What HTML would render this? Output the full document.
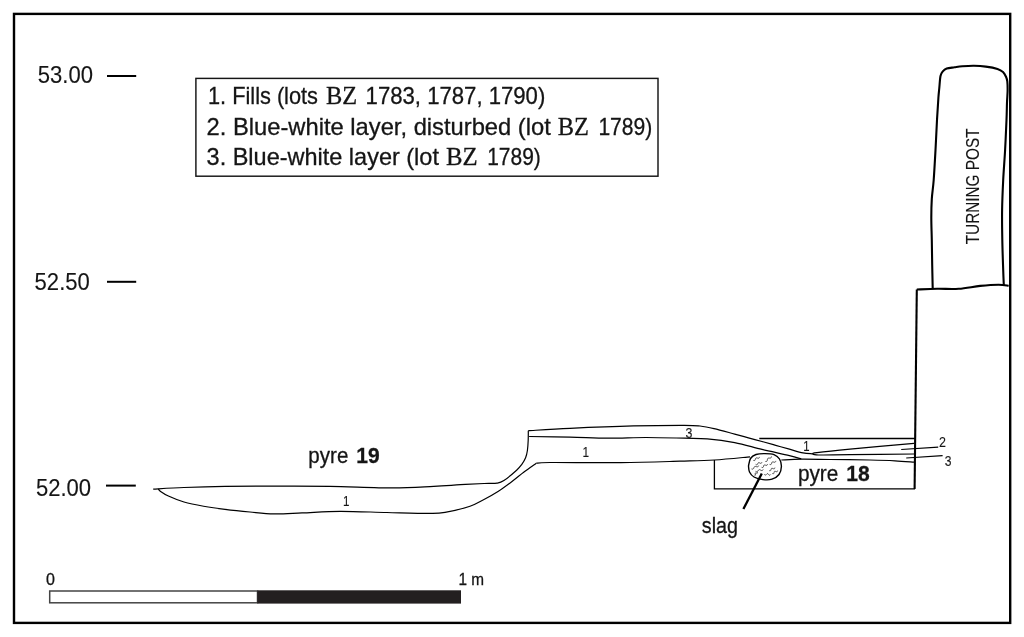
<!DOCTYPE html>
<html><head><meta charset="utf-8">
<style>
html,body{margin:0;padding:0;background:#fff;}
body{width:1024px;height:637px;overflow:hidden;}
svg{display:block;will-change:transform;}
text{fill:#151515;stroke:#151515;stroke-width:0.3px;}
.sa{font-family:"Liberation Sans",sans-serif;}
.sb{font-family:"Liberation Sans",sans-serif;font-weight:bold;}
.se{font-family:"Liberation Serif",serif;}
</style></head><body>
<svg width="1024" height="637" viewBox="0 0 1024 637">
<rect x="0" y="0" width="1024" height="637" fill="#fff"/>
<rect x="14" y="13.9" width="996.2" height="609" fill="none" stroke="#000" stroke-width="2.4"/>
<text class="sa" font-size="23.66" x="37.8" y="82.7" textLength="55.2" lengthAdjust="spacingAndGlyphs" style="stroke-width:0.12px">53.00</text>
<text class="sa" font-size="23.66" x="34.6" y="289.8" textLength="55.2" lengthAdjust="spacingAndGlyphs" style="stroke-width:0.12px">52.50</text>
<text class="sa" font-size="23.8" x="35.9" y="495.8" textLength="55.2" lengthAdjust="spacingAndGlyphs" style="stroke-width:0.12px">52.00</text>
<g stroke="#000" stroke-width="2">
<line x1="107" y1="76" x2="136.2" y2="76"/>
<line x1="107" y1="281.8" x2="136.2" y2="281.8"/>
<line x1="106" y1="485.6" x2="135.8" y2="485.6"/>
</g>
<rect x="195.9" y="78.4" width="462.1" height="97.8" fill="none" stroke="#151515" stroke-width="1.45"/>
<text class="sa" font-size="24" x="208.0" y="103.8" textLength="109.98" lengthAdjust="spacingAndGlyphs">1. Fills (lots</text>
<text class="se" font-size="25.3" x="325.9" y="103.8" textLength="31.21" lengthAdjust="spacingAndGlyphs">BZ</text>
<text class="sa" font-size="24" x="365.6" y="103.8" textLength="179.72" lengthAdjust="spacingAndGlyphs">1783, 1787, 1790)</text>
<text class="sa" font-size="24" x="206.6" y="134.6" textLength="344.21" lengthAdjust="spacingAndGlyphs">2. Blue-white layer, disturbed (lot</text>
<text class="se" font-size="25.3" x="557.8" y="134.6" textLength="31.21" lengthAdjust="spacingAndGlyphs">BZ</text>
<text class="sa" font-size="24" x="598.4" y="134.6" textLength="53.9" lengthAdjust="spacingAndGlyphs">1789)</text>
<text class="sa" font-size="24" x="206.6" y="164.7" textLength="232.32" lengthAdjust="spacingAndGlyphs">3. Blue-white layer (lot</text>
<text class="se" font-size="25.3" x="445.9" y="164.7" textLength="31.71" lengthAdjust="spacingAndGlyphs">BZ</text>
<text class="sa" font-size="24" x="487.2" y="164.7" textLength="53.6" lengthAdjust="spacingAndGlyphs">1789)</text>
<g fill="none" stroke="#000" stroke-width="2.1" stroke-linecap="butt" stroke-linejoin="round">
<path d="M932.70,288.20 C932.62,284.33 932.35,273.03 932.20,265.00 C932.05,256.97 931.95,247.88 931.80,240.00 C931.65,232.12 931.30,224.55 931.30,217.70 C931.30,210.85 931.40,205.18 931.80,198.90 C932.20,192.62 933.07,188.43 933.70,180.00 C934.33,171.57 935.05,158.30 935.60,148.30 C936.15,138.30 936.53,128.43 937.00,120.00 C937.47,111.57 938.02,103.03 938.40,97.70 C938.78,92.37 938.95,91.62 939.30,88.00 C939.65,84.38 939.92,78.78 940.50,76.00 C941.08,73.22 941.77,72.55 942.80,71.30 C943.83,70.05 944.75,69.17 946.70,68.50 C948.65,67.83 951.90,67.67 954.50,67.30 C957.10,66.93 959.05,66.55 962.30,66.30 C965.55,66.05 970.08,65.75 974.00,65.80 C977.92,65.85 981.88,66.08 985.80,66.60 C989.72,67.12 994.63,68.00 997.50,68.90 C1000.37,69.80 1001.58,70.69 1003.00,72.00 C1004.42,73.31 1005.28,75.18 1006.00,76.75 C1006.72,78.32 1007.03,79.03 1007.30,81.40 C1007.57,83.78 1007.65,87.48 1007.60,91.00 C1007.55,94.52 1007.18,97.67 1007.00,102.50 C1006.82,107.33 1006.82,112.08 1006.50,120.00 C1006.18,127.92 1005.65,140.00 1005.10,150.00 C1004.55,160.00 1003.70,170.00 1003.20,180.00 C1002.70,190.00 1002.25,200.00 1002.10,210.00 C1001.95,220.00 1002.12,230.00 1002.30,240.00 C1002.48,250.00 1002.95,262.50 1003.20,270.00 C1003.45,277.50 1003.70,282.50 1003.80,285.00"/>
<path d="M916.80,289.50 C920.20,289.38 930.22,288.92 937.20,288.80 C944.18,288.68 951.53,289.28 958.70,288.80 C965.87,288.32 973.57,286.58 980.20,285.90 C986.83,285.22 993.75,284.73 998.50,284.70 C1003.25,284.67 1007.00,285.53 1008.70,285.70"/>
<path d="M916.8,289.5 L914.6,489"/>
</g>
<text class="sa" style="stroke-width:0.12px" font-size="18.06" x="0.0" y="0" textLength="115.81" lengthAdjust="spacingAndGlyphs" transform="translate(979.4,244.3) rotate(-90)">TURNING POST</text>
<g fill="none" stroke="#000" stroke-width="1.3">
<path d="M759.3,438.5 L915,438.5 M714.4,460 L714.4,488.8 L915,488.8"/>
</g>
<g fill="none" stroke="#000" stroke-width="1.2" stroke-linejoin="round">
<path d="M153.20,489.10 C158.33,488.83 172.03,487.95 184.00,487.50 C195.97,487.05 209.23,486.63 225.00,486.40 C240.77,486.17 261.10,486.12 278.60,486.10 C296.10,486.08 310.98,486.00 330.00,486.30 C349.02,486.60 375.41,487.90 392.70,487.90 C409.99,487.90 422.45,486.83 433.75,486.30 C445.05,485.77 452.11,485.17 460.50,484.70 C468.89,484.23 478.02,483.75 484.10,483.50 C490.18,483.25 493.70,483.68 497.00,483.20 C500.30,482.72 500.63,482.77 503.90,480.60 C507.17,478.43 513.67,472.83 516.60,470.20 C519.53,467.57 520.00,466.88 521.50,464.80 C523.00,462.72 524.62,460.08 525.60,457.70 C526.58,455.32 526.97,453.40 527.40,450.50 C527.83,447.60 528.05,443.60 528.20,440.30 C528.35,437.00 528.28,432.30 528.30,430.70"/>
<path d="M528.30,430.70 C535.25,430.30 552.47,429.10 570.00,428.30 C587.53,427.50 614.45,426.40 633.50,425.90 C652.55,425.40 673.22,425.28 684.30,425.30 C695.38,425.32 695.05,425.45 700.00,426.00 C704.95,426.55 708.22,427.25 714.00,428.60 C719.78,429.95 728.97,432.57 734.70,434.10 C740.43,435.63 743.85,436.57 748.40,437.80 C752.95,439.03 757.45,440.25 762.00,441.50 C766.55,442.75 771.13,444.02 775.70,445.30 C780.27,446.58 784.85,447.93 789.40,449.20 C793.95,450.47 799.20,452.13 803.00,452.90 C806.80,453.67 810.67,453.65 812.20,453.80"/>
<path d="M812.20,453.80 C812.98,453.62 810.60,453.47 816.90,452.70 C823.20,451.93 833.82,450.77 850.00,449.20 C866.18,447.63 903.33,444.28 914.00,443.30"/>
<path d="M812.20,453.80 C813.23,454.00 812.10,454.87 818.40,455.00 C824.70,455.13 834.07,454.77 850.00,454.60 C865.93,454.43 903.33,454.10 914.00,454.00"/>
<path d="M158.30,488.90 C158.68,489.32 158.92,490.22 160.60,491.40 C162.28,492.58 164.50,494.23 168.40,496.00 C172.30,497.77 178.13,500.29 184.00,502.00 C189.87,503.71 196.77,505.02 203.60,506.25 C210.43,507.48 217.27,508.44 225.00,509.40 C232.73,510.36 241.83,511.27 250.00,512.00 C258.17,512.73 265.33,513.65 274.00,513.80 C282.67,513.95 291.00,513.32 302.00,512.90 C313.00,512.48 325.85,511.37 340.00,511.30 C354.15,511.23 372.10,512.15 386.90,512.50 C401.70,512.85 419.12,513.42 428.80,513.40 C438.48,513.38 438.13,513.60 445.00,512.40 C451.87,511.20 463.50,508.35 470.00,506.20 C476.50,504.05 479.33,501.95 484.00,499.50 C488.67,497.05 493.33,494.50 498.00,491.50 C502.67,488.50 507.67,484.75 512.00,481.50 C516.33,478.25 519.95,475.05 524.00,472.00 C528.05,468.95 534.25,464.67 536.30,463.20"/>
<path d="M536.30,463.20 C538.58,463.08 535.92,462.60 550.00,462.50 C564.08,462.40 599.13,462.82 620.80,462.60 C642.47,462.38 664.38,461.63 680.00,461.20 C695.62,460.77 702.83,460.73 714.50,460.00 C726.17,459.27 744.08,457.33 750.00,456.80"/>
<path d="M781.30,460.00 C784.62,459.87 793.13,459.28 801.25,459.20 C809.37,459.12 818.54,459.37 830.00,459.50 C841.46,459.63 859.17,459.78 870.00,460.00 C880.83,460.22 887.67,460.43 895.00,460.80 C902.33,461.17 910.83,461.97 914.00,462.20"/>
<path d="M529.10,436.50 C535.92,436.60 556.85,436.82 570.00,437.10 C583.15,437.38 595.33,438.13 608.00,438.20 C620.67,438.27 633.28,437.50 646.00,437.50 C658.72,437.50 674.08,437.98 684.30,438.20 C694.52,438.42 698.90,438.07 707.30,438.80 C715.70,439.53 725.58,440.83 734.70,442.60 C743.82,444.37 752.88,447.23 762.00,449.40 C771.12,451.57 782.86,454.02 789.40,455.60 C795.94,457.18 799.27,458.35 801.25,458.90"/>
</g>
<path d="M748.50,466.00 C748.83,464.75 749.25,460.42 750.50,458.50 C751.75,456.58 753.58,455.32 756.00,454.50 C758.42,453.68 762.00,453.58 765.00,453.60 C768.00,453.62 771.58,453.70 774.00,454.60 C776.42,455.50 778.27,457.02 779.50,459.00 C780.73,460.98 781.48,463.92 781.40,466.50 C781.32,469.08 780.57,472.38 779.00,474.50 C777.43,476.62 774.67,478.35 772.00,479.20 C769.33,480.05 766.00,479.97 763.00,479.60 C760.00,479.23 756.25,478.27 754.00,477.00 C751.75,475.73 750.42,473.83 749.50,472.00 C748.58,470.17 748.67,467.00 748.50,466.00 Z" fill="#fff" stroke="#000" stroke-width="1.4"/>
<path d="M753.30,460.40 C753.43,460.43 753.86,460.58 754.09,460.60 C754.33,460.62 754.55,460.61 754.73,460.51 C754.90,460.42 755.02,460.23 755.13,460.02 C755.23,459.80 755.29,459.49 755.37,459.23 C755.45,458.97 755.50,458.66 755.61,458.45 C755.71,458.24 755.83,458.05 756.01,457.95 C756.18,457.86 756.40,457.85 756.64,457.87 C756.88,457.88 757.17,458.00 757.43,458.07 C757.70,458.13 757.99,458.25 758.23,458.27 C758.47,458.29 758.69,458.28 758.86,458.18 C759.03,458.08 759.15,457.90 759.26,457.68 C759.37,457.47 759.46,457.03 759.50,456.90 M765.30,461.50 C765.45,461.50 765.92,461.55 766.18,461.51 C766.43,461.47 766.67,461.41 766.84,461.27 C767.01,461.13 767.12,460.91 767.21,460.66 C767.30,460.42 767.31,460.09 767.37,459.80 C767.42,459.51 767.44,459.18 767.52,458.94 C767.61,458.69 767.72,458.47 767.89,458.33 C768.06,458.19 768.30,458.13 768.56,458.09 C768.81,458.05 769.14,458.10 769.43,458.10 C769.73,458.10 770.05,458.15 770.31,458.11 C770.57,458.07 770.80,458.01 770.97,457.87 C771.15,457.73 771.26,457.51 771.34,457.26 C771.43,457.02 771.47,456.54 771.50,456.40 M755.70,464.40 C755.82,464.46 756.18,464.69 756.40,464.76 C756.61,464.83 756.82,464.87 756.99,464.81 C757.16,464.75 757.30,464.60 757.43,464.41 C757.56,464.23 757.65,463.94 757.77,463.70 C757.88,463.46 757.97,463.17 758.10,462.99 C758.23,462.80 758.37,462.65 758.54,462.59 C758.72,462.53 758.92,462.57 759.14,462.64 C759.35,462.71 759.60,462.88 759.83,463.00 C760.07,463.12 760.32,463.29 760.53,463.36 C760.75,463.43 760.95,463.47 761.12,463.41 C761.30,463.35 761.44,463.20 761.56,463.01 C761.69,462.83 761.84,462.42 761.90,462.30 M769.60,464.40 C769.73,464.43 770.16,464.58 770.39,464.60 C770.63,464.62 770.85,464.61 771.03,464.51 C771.20,464.42 771.32,464.23 771.43,464.02 C771.53,463.80 771.59,463.49 771.67,463.23 C771.75,462.97 771.80,462.66 771.91,462.45 C772.01,462.24 772.13,462.05 772.31,461.95 C772.48,461.86 772.70,461.85 772.94,461.87 C773.18,461.88 773.47,462.00 773.73,462.07 C774.00,462.13 774.29,462.25 774.53,462.27 C774.77,462.29 774.99,462.28 775.16,462.18 C775.33,462.08 775.45,461.90 775.56,461.68 C775.67,461.47 775.76,461.03 775.80,460.90 M751.50,468.90 C751.64,468.94 752.08,469.10 752.34,469.13 C752.60,469.15 752.84,469.15 753.04,469.06 C753.24,468.96 753.40,468.78 753.54,468.56 C753.68,468.35 753.78,468.03 753.90,467.77 C754.02,467.50 754.12,467.19 754.26,466.97 C754.40,466.76 754.56,466.57 754.76,466.48 C754.96,466.38 755.20,466.38 755.46,466.41 C755.72,466.43 756.02,466.56 756.30,466.63 C756.58,466.71 756.88,466.84 757.14,466.86 C757.40,466.89 757.64,466.88 757.84,466.79 C758.04,466.70 758.20,466.51 758.34,466.29 C758.48,466.08 758.64,465.63 758.70,465.50 M761.60,467.30 C761.73,467.34 762.13,467.50 762.36,467.53 C762.59,467.56 762.80,467.56 762.96,467.47 C763.13,467.38 763.24,467.20 763.34,467.00 C763.45,466.79 763.49,466.49 763.57,466.23 C763.64,465.98 763.69,465.68 763.79,465.47 C763.89,465.26 764.00,465.09 764.17,465.00 C764.33,464.91 764.54,464.91 764.77,464.94 C765.00,464.96 765.28,465.09 765.53,465.17 C765.79,465.24 766.07,465.37 766.29,465.40 C766.52,465.43 766.73,465.43 766.90,465.34 C767.06,465.25 767.18,465.07 767.28,464.86 C767.38,464.66 767.46,464.23 767.50,464.10 M769.10,470.50 C769.22,470.54 769.62,470.73 769.84,470.76 C770.06,470.80 770.26,470.81 770.42,470.73 C770.59,470.65 770.70,470.48 770.80,470.28 C770.90,470.08 770.96,469.78 771.03,469.53 C771.11,469.28 771.16,468.99 771.26,468.79 C771.37,468.59 771.48,468.42 771.64,468.33 C771.80,468.25 772.01,468.26 772.23,468.30 C772.45,468.34 772.72,468.48 772.97,468.57 C773.21,468.65 773.48,468.79 773.70,468.83 C773.92,468.87 774.13,468.88 774.29,468.80 C774.45,468.72 774.57,468.55 774.67,468.35 C774.77,468.15 774.86,467.72 774.90,467.60 M755.50,471.30 C755.63,471.37 756.03,471.62 756.27,471.70 C756.51,471.78 756.75,471.83 756.97,471.78 C757.18,471.73 757.37,471.58 757.55,471.40 C757.74,471.22 757.90,470.93 758.07,470.70 C758.24,470.47 758.40,470.18 758.58,470.00 C758.76,469.82 758.95,469.67 759.17,469.62 C759.38,469.57 759.62,469.62 759.86,469.70 C760.11,469.78 760.38,469.97 760.63,470.10 C760.89,470.23 761.16,470.42 761.40,470.50 C761.65,470.58 761.88,470.63 762.10,470.58 C762.31,470.53 762.50,470.38 762.69,470.20 C762.87,470.02 763.11,469.62 763.20,469.50 M754.40,475.10 C754.51,475.12 754.87,475.23 755.05,475.24 C755.22,475.25 755.38,475.24 755.46,475.16 C755.54,475.07 755.55,474.92 755.53,474.74 C755.52,474.57 755.42,474.31 755.37,474.10 C755.31,473.89 755.22,473.63 755.20,473.46 C755.19,473.28 755.19,473.13 755.27,473.04 C755.36,472.96 755.51,472.95 755.68,472.96 C755.86,472.97 756.12,473.05 756.33,473.10 C756.55,473.15 756.81,473.23 756.98,473.24 C757.16,473.25 757.31,473.24 757.39,473.16 C757.47,473.07 757.48,472.92 757.47,472.74 C757.45,472.57 757.33,472.21 757.30,472.10 M764.30,474.30 C764.39,474.40 764.64,474.74 764.82,474.88 C764.99,475.02 765.16,475.13 765.34,475.13 C765.52,475.14 765.70,475.04 765.88,474.92 C766.06,474.79 766.25,474.55 766.43,474.37 C766.62,474.18 766.80,473.95 766.98,473.82 C767.17,473.69 767.35,473.59 767.52,473.60 C767.70,473.61 767.88,473.71 768.05,473.85 C768.22,473.99 768.39,474.24 768.57,474.43 C768.74,474.63 768.91,474.88 769.08,475.02 C769.26,475.15 769.43,475.26 769.61,475.27 C769.79,475.27 769.97,475.18 770.15,475.05 C770.33,474.92 770.61,474.59 770.70,474.50 M772.30,473.50 C772.42,473.54 772.81,473.71 773.02,473.74 C773.23,473.77 773.43,473.78 773.58,473.70 C773.72,473.61 773.82,473.44 773.90,473.24 C773.99,473.04 774.01,472.75 774.07,472.50 C774.12,472.25 774.15,471.96 774.23,471.76 C774.31,471.56 774.41,471.39 774.56,471.30 C774.70,471.22 774.90,471.23 775.11,471.26 C775.33,471.29 775.59,471.42 775.83,471.50 C776.07,471.58 776.34,471.71 776.55,471.74 C776.77,471.77 776.96,471.78 777.11,471.70 C777.26,471.61 777.36,471.44 777.44,471.24 C777.52,471.04 777.57,470.62 777.60,470.50 " fill="none" stroke="#333" stroke-width="0.85"/>
<line x1="761.8" y1="473.5" x2="743.4" y2="509" stroke="#000" stroke-width="2.3"/>
<g stroke="#000" stroke-width="1.2">
<line x1="901.2" y1="449.5" x2="938.2" y2="447.2"/>
<line x1="906.25" y1="458" x2="942.6" y2="455.7"/>
</g>
<text class="sa" style="stroke-width:0.1px" font-size="14.5" x="342.88" y="505.7" textLength="6.45" lengthAdjust="spacingAndGlyphs">1</text>
<text class="sa" style="stroke-width:0.1px" font-size="14.8" x="582.61" y="456.8" textLength="6.59" lengthAdjust="spacingAndGlyphs">1</text>
<text class="sa" style="stroke-width:0.1px" font-size="15.5" x="685.46" y="437.8" textLength="6.90" lengthAdjust="spacingAndGlyphs">3</text>
<text class="sa" style="stroke-width:0.1px" font-size="14.2" x="803.25" y="450.5" textLength="6.32" lengthAdjust="spacingAndGlyphs">1</text>
<text class="sa" style="stroke-width:0.1px" font-size="13.9" x="939.03" y="447.2" textLength="6.96" lengthAdjust="spacingAndGlyphs">2</text>
<text class="sa" style="stroke-width:0.1px" font-size="14.2" x="944.85" y="466" textLength="6.71" lengthAdjust="spacingAndGlyphs">3</text>
<text class="sa" font-size="22.3" x="308.35" y="463" textLength="39.96" lengthAdjust="spacingAndGlyphs">pyre</text>
<text class="sb" font-size="22.3" x="356.2" y="463" textLength="23.4" lengthAdjust="spacingAndGlyphs">19</text>
<text class="sa" font-size="22.3" x="797.9" y="481.1" textLength="40.41" lengthAdjust="spacingAndGlyphs">pyre</text>
<text class="sb" font-size="22.3" x="846.2" y="481.1" textLength="23.4" lengthAdjust="spacingAndGlyphs">18</text>
<text class="sa" font-size="22.3" x="701.8" y="532.5" textLength="36.19" lengthAdjust="spacingAndGlyphs">slag</text>
<rect x="49.7" y="591" width="207.8" height="11.8" fill="#fff" stroke="#444" stroke-width="1.5"/>
<rect x="257.3" y="590.3" width="203.7" height="13.3" fill="#231f20"/>
<text class="sa" font-size="16.5" x="45.9" y="584.8" textLength="8.92" lengthAdjust="spacingAndGlyphs">0</text>
<text class="sa" font-size="16.5" x="458.4" y="584.8" textLength="25.59" lengthAdjust="spacingAndGlyphs">1 m</text>
</svg>
</body></html>
